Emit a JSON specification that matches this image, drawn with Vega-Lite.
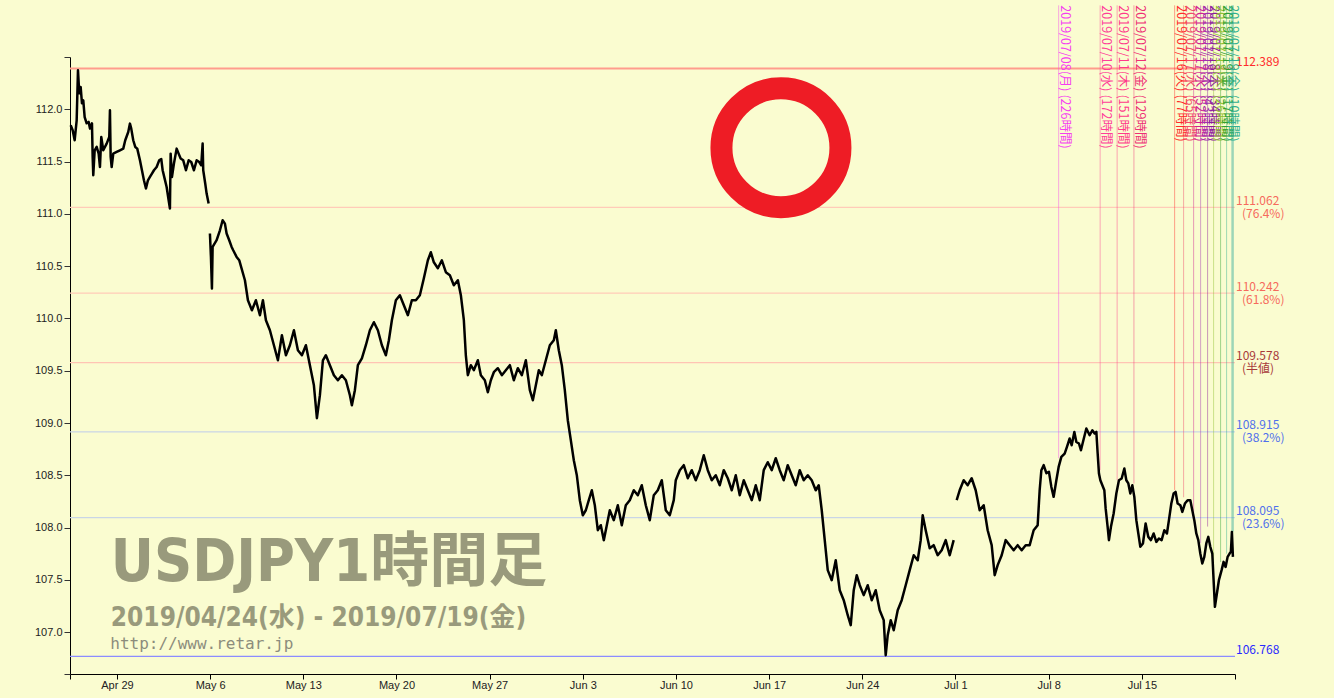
{
"$schema": "https://vega.github.io/schema/vega-lite/v6.json",
"width": 1165, "height": 617,
"autosize": {"type": "none"},
"padding": {"left": 70, "top": 57, "right": 99, "bottom": 24},
"background": "#fafcd0",
"config": {"view": {"stroke": null}},
"datasets": {
"price": [
{"t":-2.484,"p":111.847,"s":1},{"t":-2.377,"p":111.799,"s":1},{"t":-2.269,"p":111.704,"s":1},{"t":-2.162,"p":111.895,"s":1},{"t":-2.092,"p":112.373,"s":1},{"t":-2.023,"p":112.153,"s":1},{"t":-1.947,"p":112.213,"s":1},{"t":-1.878,"p":112.057,"s":1},{"t":-1.808,"p":112.086,"s":1},{"t":-1.733,"p":111.926,"s":1},{"t":-1.626,"p":111.866,"s":1},{"t":-1.518,"p":111.879,"s":1},{"t":-1.448,"p":111.815,"s":1},{"t":-1.341,"p":111.866,"s":1},{"t":-1.304,"p":111.544,"s":1},{"t":-1.271,"p":111.369,"s":1},{"t":-1.196,"p":111.608,"s":1},{"t":-1.089,"p":111.640,"s":1},{"t":-0.982,"p":111.576,"s":1},{"t":-0.912,"p":111.448,"s":1},{"t":-0.842,"p":111.735,"s":1},{"t":-0.735,"p":111.608,"s":1},{"t":-0.553,"p":111.672,"s":1},{"t":-0.413,"p":111.735,"s":1},{"t":-0.376,"p":111.990,"s":1},{"t":-0.338,"p":111.544,"s":1},{"t":-0.284,"p":111.448,"s":1},{"t":-0.198,"p":111.576,"s":1},{"t":-0.016,"p":111.592,"s":1},{"t":0.161,"p":111.608,"s":1},{"t":0.338,"p":111.624,"s":1},{"t":0.445,"p":111.704,"s":1},{"t":0.606,"p":111.783,"s":1},{"t":0.697,"p":111.863,"s":1},{"t":0.767,"p":111.815,"s":1},{"t":0.874,"p":111.704,"s":1},{"t":0.982,"p":111.640,"s":1},{"t":1.089,"p":111.624,"s":1},{"t":1.234,"p":111.512,"s":1},{"t":1.341,"p":111.417,"s":1},{"t":1.448,"p":111.321,"s":1},{"t":1.556,"p":111.242,"s":1},{"t":1.663,"p":111.321,"s":1},{"t":1.770,"p":111.353,"s":1},{"t":1.878,"p":111.385,"s":1},{"t":1.985,"p":111.417,"s":1},{"t":2.130,"p":111.448,"s":1},{"t":2.269,"p":111.512,"s":1},{"t":2.377,"p":111.525,"s":1},{"t":2.452,"p":111.417,"s":1},{"t":2.559,"p":111.337,"s":1},{"t":2.666,"p":111.257,"s":1},{"t":2.774,"p":111.130,"s":1},{"t":2.843,"p":111.051,"s":1},{"t":2.881,"p":111.576,"s":1},{"t":2.951,"p":111.353,"s":1},{"t":3.058,"p":111.481,"s":1},{"t":3.203,"p":111.624,"s":1},{"t":3.310,"p":111.576,"s":1},{"t":3.417,"p":111.529,"s":1},{"t":3.557,"p":111.512,"s":1},{"t":3.702,"p":111.417,"s":1},{"t":3.847,"p":111.512,"s":1},{"t":3.986,"p":111.496,"s":1},{"t":4.131,"p":111.417,"s":1},{"t":4.276,"p":111.512,"s":1},{"t":4.415,"p":111.496,"s":1},{"t":4.523,"p":111.465,"s":1},{"t":4.598,"p":111.672,"s":1},{"t":4.630,"p":111.417,"s":1},{"t":4.737,"p":111.290,"s":1},{"t":4.812,"p":111.194,"s":1},{"t":4.920,"p":111.098,"s":1},
{"t":4.989,"p":110.812,"s":2},{"t":5.043,"p":110.588,"s":2},{"t":5.097,"p":110.286,"s":2},{"t":5.134,"p":110.684,"s":2},{"t":5.349,"p":110.748,"s":2},{"t":5.526,"p":110.843,"s":2},{"t":5.671,"p":110.939,"s":2},{"t":5.794,"p":110.907,"s":2},{"t":5.885,"p":110.812,"s":2},{"t":6.025,"p":110.748,"s":2},{"t":6.154,"p":110.684,"s":2},{"t":6.239,"p":110.652,"s":2},{"t":6.422,"p":110.588,"s":2},{"t":6.561,"p":110.557,"s":2},{"t":6.867,"p":110.365,"s":2},{"t":7.028,"p":110.174,"s":2},{"t":7.242,"p":110.078,"s":2},{"t":7.457,"p":110.174,"s":2},{"t":7.672,"p":110.031,"s":2},{"t":7.833,"p":110.174,"s":2},{"t":7.994,"p":109.983,"s":2},{"t":8.208,"p":109.887,"s":2},{"t":8.423,"p":109.744,"s":2},{"t":8.637,"p":109.600,"s":2},{"t":8.852,"p":109.839,"s":2},{"t":9.067,"p":109.648,"s":2},{"t":9.281,"p":109.744,"s":2},{"t":9.496,"p":109.887,"s":2},{"t":9.710,"p":109.696,"s":2},{"t":9.925,"p":109.648,"s":2},{"t":10.140,"p":109.744,"s":2},{"t":10.354,"p":109.553,"s":2},{"t":10.569,"p":109.361,"s":2},{"t":10.730,"p":109.046,"s":2},{"t":10.891,"p":109.266,"s":2},{"t":11.052,"p":109.600,"s":2},{"t":11.212,"p":109.648,"s":2},{"t":11.427,"p":109.553,"s":2},{"t":11.642,"p":109.457,"s":2},{"t":11.856,"p":109.409,"s":2},{"t":12.071,"p":109.457,"s":2},{"t":12.285,"p":109.409,"s":2},{"t":12.500,"p":109.266,"s":2},{"t":12.607,"p":109.170,"s":2},{"t":12.768,"p":109.314,"s":2},{"t":12.929,"p":109.553,"s":2},{"t":13.144,"p":109.619,"s":2},{"t":13.358,"p":109.744,"s":2},{"t":13.573,"p":109.887,"s":2},{"t":13.788,"p":109.964,"s":2},{"t":14.002,"p":109.887,"s":2},{"t":14.217,"p":109.744,"s":2},{"t":14.431,"p":109.648,"s":2},{"t":14.592,"p":109.792,"s":2},{"t":14.753,"p":109.983,"s":2},{"t":14.968,"p":110.174,"s":2},{"t":15.182,"p":110.222,"s":2},{"t":15.397,"p":110.126,"s":2},{"t":15.612,"p":110.031,"s":2},{"t":15.826,"p":110.174,"s":2},{"t":16.041,"p":110.174,"s":2},{"t":16.255,"p":110.222,"s":2},{"t":16.470,"p":110.384,"s":2},{"t":16.685,"p":110.556,"s":2},{"t":16.845,"p":110.633,"s":2},{"t":17.006,"p":110.537,"s":2},{"t":17.221,"p":110.480,"s":2},{"t":17.436,"p":110.556,"s":2},{"t":17.650,"p":110.442,"s":2},{"t":17.865,"p":110.413,"s":2},{"t":18.079,"p":110.317,"s":2},{"t":18.294,"p":110.365,"s":2},{"t":18.455,"p":110.222,"s":2},{"t":18.616,"p":109.983,"s":2},{"t":18.723,"p":109.648,"s":2},{"t":18.830,"p":109.457,"s":2},{"t":18.991,"p":109.553,"s":2},{"t":19.152,"p":109.505,"s":2},{"t":19.367,"p":109.600,"s":2},{"t":19.528,"p":109.457,"s":2},{"t":19.742,"p":109.409,"s":2},{"t":19.903,"p":109.294,"s":2},{"t":20.064,"p":109.409,"s":2},{"t":20.225,"p":109.486,"s":2},{"t":20.440,"p":109.524,"s":2},{"t":20.655,"p":109.457,"s":2},{"t":20.869,"p":109.505,"s":2},{"t":21.084,"p":109.553,"s":2},{"t":21.298,"p":109.409,"s":2},{"t":21.513,"p":109.524,"s":2},{"t":21.727,"p":109.457,"s":2},{"t":21.942,"p":109.600,"s":2},{"t":22.157,"p":109.314,"s":2},{"t":22.318,"p":109.218,"s":2},{"t":22.479,"p":109.361,"s":2},{"t":22.639,"p":109.505,"s":2},{"t":22.800,"p":109.457,"s":2},{"t":23.015,"p":109.600,"s":2},{"t":23.230,"p":109.744,"s":2},{"t":23.444,"p":109.792,"s":2},{"t":23.552,"p":109.887,"s":2},{"t":23.712,"p":109.696,"s":2},{"t":23.873,"p":109.553,"s":2},{"t":24.034,"p":109.314,"s":2},{"t":24.195,"p":109.027,"s":2},{"t":24.356,"p":108.836,"s":2},{"t":24.517,"p":108.644,"s":2},{"t":24.678,"p":108.501,"s":2},{"t":24.839,"p":108.262,"s":2},{"t":25.000,"p":108.118,"s":2},{"t":25.161,"p":108.166,"s":2},{"t":25.322,"p":108.262,"s":2},{"t":25.483,"p":108.357,"s":2},{"t":25.644,"p":108.214,"s":2},{"t":25.805,"p":107.975,"s":2},{"t":25.966,"p":108.023,"s":2},{"t":26.127,"p":107.880,"s":2},{"t":26.288,"p":108.023,"s":2},{"t":26.449,"p":108.166,"s":2},{"t":26.663,"p":108.071,"s":2},{"t":26.878,"p":108.214,"s":2},{"t":27.092,"p":108.023,"s":2},{"t":27.307,"p":108.214,"s":2},{"t":27.521,"p":108.262,"s":2},{"t":27.736,"p":108.357,"s":2},{"t":27.951,"p":108.310,"s":2},{"t":28.165,"p":108.405,"s":2},{"t":28.380,"p":108.214,"s":2},{"t":28.594,"p":108.071,"s":2},{"t":28.809,"p":108.310,"s":2},{"t":29.024,"p":108.357,"s":2},{"t":29.238,"p":108.453,"s":2},{"t":29.453,"p":108.166,"s":2},{"t":29.667,"p":108.118,"s":2},{"t":29.882,"p":108.262,"s":2},{"t":29.989,"p":108.453,"s":2},{"t":30.204,"p":108.549,"s":2},{"t":30.418,"p":108.597,"s":2},{"t":30.633,"p":108.472,"s":2},{"t":30.848,"p":108.549,"s":2},{"t":31.062,"p":108.453,"s":2},{"t":31.277,"p":108.549,"s":2},{"t":31.491,"p":108.692,"s":2},{"t":31.706,"p":108.549,"s":2},{"t":31.921,"p":108.453,"s":2},{"t":32.135,"p":108.501,"s":2},{"t":32.350,"p":108.405,"s":2},{"t":32.564,"p":108.549,"s":2},{"t":32.779,"p":108.472,"s":2},{"t":32.994,"p":108.357,"s":2},{"t":33.208,"p":108.501,"s":2},{"t":33.423,"p":108.310,"s":2},{"t":33.637,"p":108.453,"s":2},{"t":33.852,"p":108.357,"s":2},{"t":34.067,"p":108.262,"s":2},{"t":34.281,"p":108.405,"s":2},{"t":34.496,"p":108.262,"s":2},{"t":34.710,"p":108.549,"s":2},{"t":34.925,"p":108.625,"s":2},{"t":35.140,"p":108.549,"s":2},{"t":35.354,"p":108.663,"s":2},{"t":35.569,"p":108.549,"s":2},{"t":35.783,"p":108.453,"s":2},{"t":35.998,"p":108.597,"s":2},{"t":36.212,"p":108.501,"s":2},{"t":36.427,"p":108.405,"s":2},{"t":36.642,"p":108.549,"s":2},{"t":36.856,"p":108.453,"s":2},{"t":37.071,"p":108.501,"s":2},{"t":37.285,"p":108.453,"s":2},{"t":37.500,"p":108.357,"s":2},{"t":37.661,"p":108.405,"s":2},{"t":37.822,"p":108.166,"s":2},{"t":37.983,"p":107.880,"s":2},{"t":38.144,"p":107.593,"s":2},{"t":38.358,"p":107.497,"s":2},{"t":38.573,"p":107.688,"s":2},{"t":38.788,"p":107.401,"s":2},{"t":39.002,"p":107.306,"s":2},{"t":39.217,"p":107.162,"s":2},{"t":39.378,"p":107.067,"s":2},{"t":39.539,"p":107.401,"s":2},{"t":39.700,"p":107.545,"s":2},{"t":39.861,"p":107.449,"s":2},{"t":40.075,"p":107.354,"s":2},{"t":40.290,"p":107.449,"s":2},{"t":40.504,"p":107.306,"s":2},{"t":40.719,"p":107.401,"s":2},{"t":40.933,"p":107.210,"s":2},{"t":41.148,"p":107.115,"s":2},{"t":41.255,"p":106.780,"s":2},{"t":41.363,"p":106.971,"s":2},{"t":41.524,"p":107.115,"s":2},{"t":41.685,"p":107.019,"s":2},{"t":41.899,"p":107.210,"s":2},{"t":42.114,"p":107.306,"s":2},{"t":42.328,"p":107.449,"s":2},{"t":42.543,"p":107.593,"s":2},{"t":42.758,"p":107.736,"s":2},{"t":42.972,"p":107.688,"s":2},{"t":43.133,"p":107.880,"s":2},{"t":43.240,"p":108.118,"s":2},{"t":43.401,"p":107.975,"s":2},{"t":43.616,"p":107.803,"s":2},{"t":43.830,"p":107.832,"s":2},{"t":44.045,"p":107.736,"s":2},{"t":44.260,"p":107.784,"s":2},{"t":44.474,"p":107.880,"s":2},{"t":44.689,"p":107.736,"s":2},{"t":44.903,"p":107.880,"s":2},
{"t":45.064,"p":108.262,"s":3},{"t":45.225,"p":108.357,"s":3},{"t":45.440,"p":108.453,"s":3},{"t":45.655,"p":108.405,"s":3},{"t":45.869,"p":108.472,"s":3},{"t":46.084,"p":108.357,"s":3},{"t":46.298,"p":108.166,"s":3},{"t":46.513,"p":108.214,"s":3},{"t":46.727,"p":107.975,"s":3},{"t":46.942,"p":107.832,"s":3},{"t":47.103,"p":107.545,"s":3},{"t":47.264,"p":107.641,"s":3},{"t":47.479,"p":107.736,"s":3},{"t":47.693,"p":107.880,"s":3},{"t":47.908,"p":107.832,"s":3},{"t":48.122,"p":107.784,"s":3},{"t":48.337,"p":107.832,"s":3},{"t":48.552,"p":107.784,"s":3},{"t":48.766,"p":107.832,"s":3},{"t":48.981,"p":107.832,"s":3},{"t":49.195,"p":107.975,"s":3},{"t":49.410,"p":108.023,"s":3},{"t":49.517,"p":108.357,"s":3},{"t":49.608,"p":108.549,"s":3},{"t":49.732,"p":108.597,"s":3},{"t":49.877,"p":108.520,"s":3},{"t":50.016,"p":108.533,"s":3},{"t":50.145,"p":108.389,"s":3},{"t":50.268,"p":108.294,"s":3},{"t":50.413,"p":108.453,"s":3},{"t":50.536,"p":108.580,"s":3},{"t":50.681,"p":108.676,"s":3},{"t":50.858,"p":108.708,"s":3},{"t":50.982,"p":108.772,"s":3},{"t":51.127,"p":108.852,"s":3},{"t":51.234,"p":108.788,"s":3},{"t":51.379,"p":108.915,"s":3},{"t":51.486,"p":108.819,"s":3},{"t":51.625,"p":108.804,"s":3},{"t":51.732,"p":108.740,"s":3},{"t":51.840,"p":108.819,"s":3},{"t":52.022,"p":108.947,"s":3},{"t":52.199,"p":108.883,"s":3},{"t":52.344,"p":108.931,"s":3},{"t":52.468,"p":108.900,"s":3},{"t":52.559,"p":108.915,"s":3},{"t":52.629,"p":108.711,"s":3},{"t":52.699,"p":108.517,"s":3},{"t":52.774,"p":108.453,"s":3},{"t":52.881,"p":108.405,"s":3},{"t":52.988,"p":108.357,"s":3},{"t":53.058,"p":108.183,"s":3},{"t":53.165,"p":108.007,"s":3},{"t":53.235,"p":107.880,"s":3},{"t":53.343,"p":108.007,"s":3},{"t":53.487,"p":108.135,"s":3},{"t":53.632,"p":108.326,"s":3},{"t":53.771,"p":108.453,"s":3},{"t":53.916,"p":108.469,"s":3},{"t":54.061,"p":108.565,"s":3},{"t":54.168,"p":108.453,"s":3},{"t":54.276,"p":108.422,"s":3},{"t":54.383,"p":108.326,"s":3},{"t":54.490,"p":108.405,"s":3},{"t":54.597,"p":108.294,"s":3},{"t":54.705,"p":108.071,"s":3},{"t":54.812,"p":107.944,"s":3},{"t":54.919,"p":107.816,"s":3},{"t":55.059,"p":107.848,"s":3},{"t":55.204,"p":108.039,"s":3},{"t":55.348,"p":107.911,"s":3},{"t":55.488,"p":107.880,"s":3},{"t":55.633,"p":107.944,"s":3},{"t":55.778,"p":107.863,"s":3},{"t":55.917,"p":107.896,"s":3},{"t":56.062,"p":107.880,"s":3},{"t":56.207,"p":107.975,"s":3},{"t":56.347,"p":107.944,"s":3},{"t":56.454,"p":108.071,"s":3},{"t":56.582,"p":108.230,"s":3},{"t":56.706,"p":108.326,"s":3},{"t":56.813,"p":108.341,"s":3},{"t":56.921,"p":108.230,"s":3},{"t":57.066,"p":108.214,"s":3},{"t":57.173,"p":108.150,"s":3},{"t":57.312,"p":108.230,"s":3},{"t":57.457,"p":108.262,"s":3},{"t":57.602,"p":108.262,"s":3},{"t":57.709,"p":108.166,"s":3},{"t":57.816,"p":108.071,"s":3},{"t":57.924,"p":107.944,"s":3},{"t":58.031,"p":107.880,"s":3},{"t":58.138,"p":107.752,"s":3},{"t":58.245,"p":107.657,"s":3},{"t":58.353,"p":107.720,"s":3},{"t":58.460,"p":107.848,"s":3},{"t":58.568,"p":107.911,"s":3},{"t":58.675,"p":107.816,"s":3},{"t":58.782,"p":107.752,"s":3},{"t":58.852,"p":107.497,"s":3},{"t":58.922,"p":107.242,"s":3},{"t":59.029,"p":107.370,"s":3},{"t":59.136,"p":107.497,"s":3},{"t":59.281,"p":107.593,"s":3},{"t":59.388,"p":107.672,"s":3},{"t":59.496,"p":107.624,"s":3},{"t":59.603,"p":107.720,"s":3},{"t":59.710,"p":107.752,"s":3},{"t":59.780,"p":107.768,"s":3},{"t":59.834,"p":107.959,"s":3},{"t":59.888,"p":107.720,"s":3}
],
"levels": [
{"p":112.389,"v":"112.389","pct":"","k":"high"},
{"p":111.062,"v":"111.062","pct":"(76.4%)","k":"upper"},
{"p":110.242,"v":"110.242","pct":"(61.8%)","k":"upper"},
{"p":109.578,"v":"109.578","pct":"(半値)","k":"mid"},
{"p":108.915,"v":"108.915","pct":"(38.2%)","k":"lower"},
{"p":108.095,"v":"108.095","pct":"(23.6%)","k":"lower"},
{"p":106.768,"v":"106.768","pct":"","k":"low"}
],
"marks": [
{"t":50.536,"p":108.664,"label":"2019/07/08(月) (226時間)"},
{"t":52.763,"p":108.549,"label":"2019/07/10(水) (172時間)"},
{"t":53.675,"p":108.453,"label":"2019/07/11(木) (151時間)"},
{"t":54.576,"p":108.420,"label":"2019/07/12(金) (129時間)"},
{"t":56.760,"p":108.360,"label":"2019/07/16(火) (77時間)"},
{"t":57.242,"p":108.290,"label":"2019/07/17(水) (65時間)"},
{"t":57.779,"p":108.140,"label":"2019/07/17(水) (52時間)"},
{"t":58.155,"p":107.850,"label":"2019/07/18(木) (43時間)"},
{"t":58.530,"p":108.010,"label":"2019/07/18(木) (34時間)"},
{"t":58.852,"p":107.530,"label":"2019/07/18(木) (26時間)"},
{"t":59.227,"p":107.670,"label":"2019/07/19(金) (17時間)"},
{"t":59.549,"p":107.750,"label":"2019/07/19(金) (10時間)"},
{"t":59.871,"p":107.960,"label":""}
]
},
"layer": [
{
"data": {"name": "levels"},
"mark": {"type": "rule"},
"encoding": {
"y": {"field": "p", "type": "quantitative", "scale": {"domain": [106.6, 112.5], "nice": false, "zero": false},
"axis": {"values": [106.6, 107, 107.5, 108, 108.5, 109, 109.5, 110, 110.5, 111, 111.5, 112, 112.5], "labelExpr": "datum.value < 106.9 || datum.value > 112.2 ? '' : format(datum.value, '.1f')", "title": null, "grid": false, "domainColor": "#000", "tickColor": "#333", "tickSize": 6, "labelFont": "Liberation Sans", "labelFontSize": 11, "labelColor": "#222", "labelPadding": 2}},
"stroke": {"field": "k", "type": "nominal", "legend": null, "scale": {"domain": ["high", "upper", "mid", "lower", "low"], "range": ["#ff9c8c", "#ffcbb8", "#ffc4b4", "#c9d5e6", "#8c8cff"]}},
"strokeWidth": {"condition": {"test": "datum.k == 'high'", "value": 2}, "value": 1.2}
}
},
{
"data": {"name": "marks"},
"mark": {"type": "rule", "opacity": 0.45},
"encoding": {
"x": {"field": "t", "type": "quantitative", "scale": {"domain": [-2.52, 60], "nice": false, "zero": false},
"axis": {"values": [-2.52, 0, 5, 10, 15, 20, 25, 30, 35, 40, 45, 50, 55, 60], "labelExpr": "datum.value < -1 || datum.value > 57 ? '' : ['Apr 29','May 6','May 13','May 20','May 27','Jun 3','Jun 10','Jun 17','Jun 24','Jul 1','Jul 8','Jul 15'][round(datum.value / 5)]", "title": null, "grid": false, "domainColor": "#000", "tickColor": "#000", "tickSize": 5, "labelFont": "Liberation Sans", "labelFontSize": 11, "labelColor": "#222", "labelPadding": 0, "labelOverlap": false, "labelFlush": false}},
"y": {"field": "p", "type": "quantitative"},
"y2": {"datum": 112.994},
"color": {"field": "label", "type": "nominal", "legend": null, "sort": null, "scale": {"range": ["#f53ef0", "#ff3d9a", "#ff3a8a", "#ee2f74", "#ff2a2a", "#f04a6a", "#d02090", "#a030b0", "#8a1a9a", "#90c030", "#30a030", "#30b090", "#2aa89a"]}},
"strokeWidth": {"condition": {"test": "datum.t > 59.8", "value": 2.5}, "value": 1}
}
},
{
"data": {"values": [{"t": -0.33, "p": 107.49, "txt": "USDJPY1時間足"}]},
"mark": {"type": "text", "align": "left", "baseline": "alphabetic", "font": "'DejaVu Sans Condensed', 'Noto Sans CJK JP', sans-serif", "fontWeight": "bold", "fontSize": 59, "color": "#999a7c"},
"encoding": {"x": {"field": "t", "type": "quantitative"}, "y": {"field": "p", "type": "quantitative"}, "text": {"field": "txt"}}
},
{
"data": {"values": [{"t": -0.33, "p": 107.057, "txt": "2019/04/24(水) - 2019/07/19(金)"}]},
"mark": {"type": "text", "align": "left", "baseline": "alphabetic", "font": "'DejaVu Sans Condensed', 'Noto Sans CJK JP', sans-serif", "fontWeight": "bold", "fontSize": 26, "color": "#999a7c"},
"encoding": {"x": {"field": "t", "type": "quantitative"}, "y": {"field": "p", "type": "quantitative"}, "text": {"field": "txt"}}
},
{
"data": {"values": [{"t": -0.36, "p": 106.837, "txt": "http://www.retar.jp"}]},
"mark": {"type": "text", "align": "left", "baseline": "alphabetic", "font": "DejaVu Sans Mono", "fontSize": 16, "color": "#8c8c7c"},
"encoding": {"x": {"field": "t", "type": "quantitative"}, "y": {"field": "p", "type": "quantitative"}, "text": {"field": "txt"}}
},
{
"data": {"name": "price"},
"mark": {"type": "line", "color": "#000", "strokeWidth": 2.5, "strokeJoin": "round"},
"encoding": {
"x": {"field": "t", "type": "quantitative"},
"y": {"field": "p", "type": "quantitative"},
"detail": {"field": "s", "type": "nominal"}
}
},
{
"data": {"name": "levels"},
"mark": {"type": "text", "align": "left", "baseline": "middle", "dx": 1, "dy": -6.5, "fontSize": 12, "font": "Noto Sans CJK JP"},
"encoding": {
"x": {"datum": 60},
"y": {"field": "p", "type": "quantitative"},
"text": {"field": "v"},
"color": {"field": "k", "type": "nominal", "legend": null, "scale": {"domain": ["high", "upper", "mid", "lower", "low"], "range": ["#ff2b2b", "#f66a5c", "#a83a3a", "#5070ec", "#2a2aff"]}}
}
},
{
"data": {"name": "levels"},
"mark": {"type": "text", "align": "left", "baseline": "middle", "dx": 7, "dy": 6.5, "fontSize": 12, "font": "Noto Sans CJK JP"},
"encoding": {
"x": {"datum": 60},
"y": {"field": "p", "type": "quantitative"},
"text": {"field": "pct"},
"color": {"field": "k", "type": "nominal", "legend": null, "scale": {"domain": ["high", "upper", "mid", "lower", "low"], "range": ["#ff2b2b", "#f66a5c", "#a83a3a", "#5070ec", "#2a2aff"]}}
}
},
{
"data": {"name": "marks"},
"mark": {"type": "text", "angle": 90, "align": "left", "baseline": "middle", "dy": -6, "fontSize": 12.5, "font": "Noto Sans CJK JP"},
"encoding": {
"x": {"field": "t", "type": "quantitative"},
"y": {"datum": 112.994},
"text": {"field": "label"},
"color": {"field": "label", "type": "nominal", "legend": null, "sort": null, "scale": {"range": ["#f53ef0", "#ff3d9a", "#ff3a8a", "#ee2f74", "#ff2a2a", "#f04a6a", "#d02090", "#a030b0", "#8a1a9a", "#90c030", "#30a030", "#30b090", "#2aa89a"]}}
}
},
{
"data": {"values": [{"t": 35.633, "p": 111.632}]},
"mark": {"type": "point", "shape": "circle", "filled": false, "size": 14161, "strokeWidth": 22, "color": "#ee1c25", "opacity": 1},
"encoding": {
"x": {"field": "t", "type": "quantitative"},
"y": {"field": "p", "type": "quantitative"}
}
}
],
"resolve": {"scale": {"color": "independent"}}
}
